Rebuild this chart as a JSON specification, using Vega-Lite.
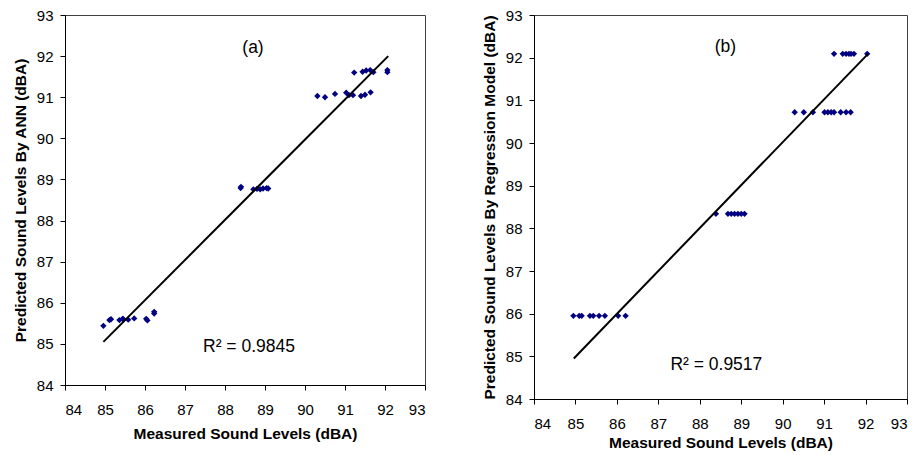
{
  "$schema": "https://vega.github.io/schema/vega-lite/v6.json",
  "padding": {"left": 12, "top": 7, "right": 0, "bottom": 0},
  "background": "white",
  "spacing": 55,
  "config": {
    "font": "Liberation Sans",
    "view": {"stroke": "#404040", "strokeWidth": 1},
    "axis": {
      "grid": false, "domainColor": "black", "tickColor": "black", "tickSize": 5, "labelOverlap": false,
      "labelFont": "Liberation Sans", "labelFontSize": 15, "labelColor": "black",
      "titleFont": "Liberation Sans", "titleFontSize": 15.5, "titleFontWeight": "bold", "titleColor": "black"
    }
  },
  "hconcat": [
    {
      "width": 360, "height": 370,
      "encoding": {
        "x": {"field": "m", "type": "quantitative", "scale": {"domain": [84, 93], "nice": false, "zero": false},
              "axis": {"title": "Measured Sound Levels (dBA)", "values": [84,85,86,87,88,89,90,91,92,93], "labelOverlap": false, "labelPadding": 12, "titlePadding": 9}},
        "y": {"field": "p", "type": "quantitative", "scale": {"domain": [84, 93], "nice": false, "zero": false},
              "axis": {"title": "Predicted Sound Levels By ANN (dBA)", "values": [84,85,86,87,88,89,90,91,92,93], "labelOverlap": false, "labelPadding": 7, "titlePadding": 8}}
      },
      "layer": [
        {
          "data": {"values": [
            {"m": 90.31, "p": 91.03}, {"m": 90.5, "p": 91.0}, {"m": 90.75, "p": 91.08}, {"m": 91.03, "p": 91.11},
            {"m": 91.1, "p": 91.05}, {"m": 91.2, "p": 91.05}, {"m": 91.4, "p": 91.03}, {"m": 91.5, "p": 91.06}, {"m": 91.64, "p": 91.12},
            {"m": 91.23, "p": 91.6}, {"m": 91.44, "p": 91.62}, {"m": 91.53, "p": 91.65}, {"m": 91.63, "p": 91.66}, {"m": 91.71, "p": 91.61},
            {"m": 92.06, "p": 91.66}, {"m": 92.06, "p": 91.61},
            {"m": 88.39, "p": 88.79}, {"m": 88.4, "p": 88.82}, {"m": 88.71, "p": 88.76}, {"m": 88.8, "p": 88.77}, {"m": 88.88, "p": 88.76},
            {"m": 88.95, "p": 88.78}, {"m": 89.04, "p": 88.79}, {"m": 89.08, "p": 88.78},
            {"m": 84.96, "p": 85.44}, {"m": 85.11, "p": 85.58}, {"m": 85.15, "p": 85.6}, {"m": 85.36, "p": 85.58}, {"m": 85.44, "p": 85.61},
            {"m": 85.46, "p": 85.6}, {"m": 85.58, "p": 85.59}, {"m": 85.73, "p": 85.62}, {"m": 86.03, "p": 85.61}, {"m": 86.06, "p": 85.57},
            {"m": 86.23, "p": 85.78}, {"m": 86.23, "p": 85.74}
          ]},
          "mark": {"type": "point", "shape": "diamond", "filled": true, "size": 40, "color": "#000080", "opacity": 1}
        },
        {
          "data": {"values": [{"m": 84.96, "p": 85.05}, {"m": 92.08, "p": 92.0}]},
          "mark": {"type": "line", "color": "black", "strokeWidth": 2}
        },
        {
          "data": {"values": [{"m": 88.7, "p": 92.2, "t": "(a)"}, {"m": 88.6, "p": 84.93, "t": "R² = 0.9845"}]},
          "mark": {"type": "text", "font": "Liberation Sans", "fontSize": 17.5, "color": "black", "align": "center", "baseline": "middle"},
          "encoding": {"text": {"field": "t"}}
        }
      ]
    },
    {
      "width": 373, "height": 384,
      "encoding": {
        "x": {"field": "m", "type": "quantitative", "scale": {"domain": [84, 93], "nice": false, "zero": false},
              "axis": {"title": "Measured Sound Levels (dBA)", "values": [84,85,86,87,88,89,90,91,92,93], "labelOverlap": false, "labelPadding": 12, "titlePadding": 4}},
        "y": {"field": "p", "type": "quantitative", "scale": {"domain": [84, 93], "nice": false, "zero": false},
              "axis": {"title": "Predicted Sound Levels By Regression Model (dBA)", "values": [84,85,86,87,88,89,90,91,92,93], "labelOverlap": false, "labelPadding": 7, "titlePadding": 8}}
      },
      "layer": [
        {
          "data": {"values": [
            {"m": 91.24, "p": 92.09}, {"m": 91.45, "p": 92.09}, {"m": 91.53, "p": 92.09}, {"m": 91.6, "p": 92.09}, {"m": 91.65, "p": 92.09}, {"m": 91.72, "p": 92.09}, {"m": 92.04, "p": 92.09},
            {"m": 90.29, "p": 90.72}, {"m": 90.51, "p": 90.72}, {"m": 90.73, "p": 90.72}, {"m": 91.01, "p": 90.72}, {"m": 91.09, "p": 90.72},
            {"m": 91.17, "p": 90.72}, {"m": 91.24, "p": 90.72}, {"m": 91.4, "p": 90.72}, {"m": 91.53, "p": 90.72}, {"m": 91.64, "p": 90.72},
            {"m": 88.39, "p": 88.34}, {"m": 88.68, "p": 88.34}, {"m": 88.76, "p": 88.34}, {"m": 88.84, "p": 88.34}, {"m": 88.92, "p": 88.34}, {"m": 89.0, "p": 88.34}, {"m": 89.08, "p": 88.34},
            {"m": 84.95, "p": 85.95}, {"m": 85.09, "p": 85.95}, {"m": 85.15, "p": 85.95}, {"m": 85.35, "p": 85.95}, {"m": 85.43, "p": 85.95},
            {"m": 85.57, "p": 85.95}, {"m": 85.71, "p": 85.95}, {"m": 86.03, "p": 85.95}, {"m": 86.21, "p": 85.95}
          ]},
          "mark": {"type": "point", "shape": "diamond", "filled": true, "size": 40, "color": "#000080", "opacity": 1}
        },
        {
          "data": {"values": [{"m": 84.96, "p": 84.95}, {"m": 92.06, "p": 92.09}]},
          "mark": {"type": "line", "color": "black", "strokeWidth": 2}
        },
        {
          "data": {"values": [{"m": 88.62, "p": 92.25, "t": "(b)"}, {"m": 88.4, "p": 84.8, "t": "R² = 0.9517"}]},
          "mark": {"type": "text", "font": "Liberation Sans", "fontSize": 17.5, "color": "black", "align": "center", "baseline": "middle"},
          "encoding": {"text": {"field": "t"}}
        }
      ]
    }
  ]
}
